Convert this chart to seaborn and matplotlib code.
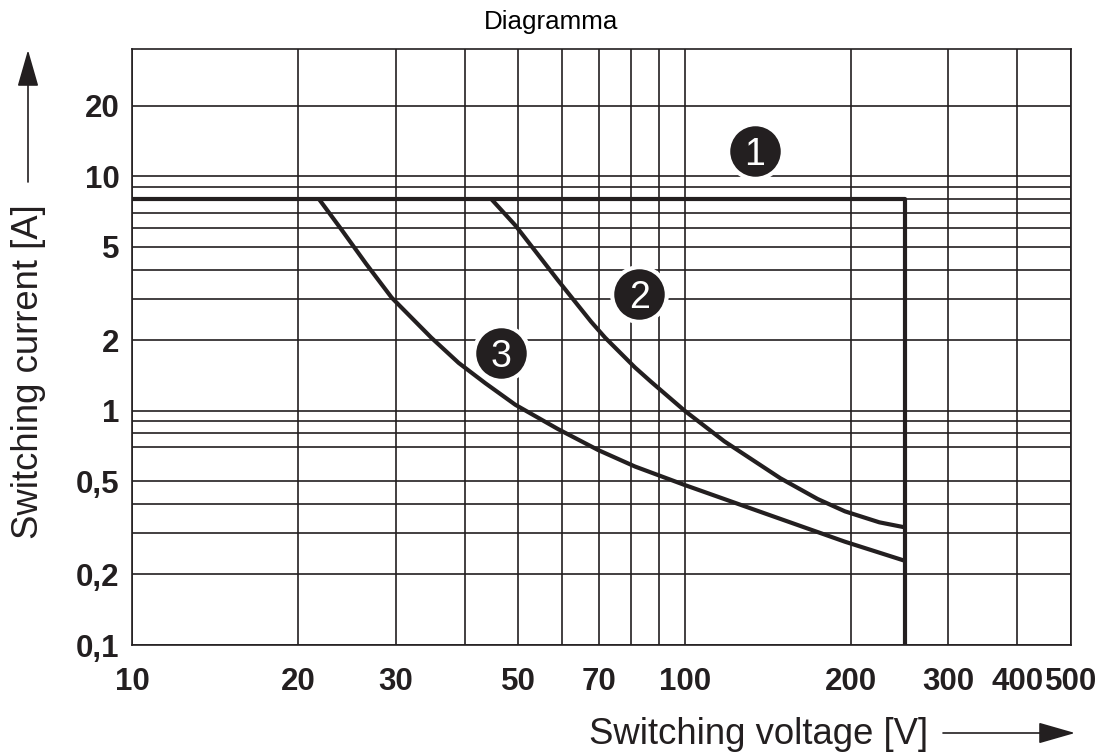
import pandas as pd
import matplotlib
matplotlib.use("Agg")
import matplotlib.pyplot as plt
import seaborn as sns
from matplotlib.ticker import FixedLocator, FixedFormatter, NullFormatter

INK = "#231f20"

# switching capacity curves
# 1: rated limit (8 A up to 250 V, then vertical)
volt_1 = [10, 250, 250]
amp_1 = [8, 8, 0.1]

# 2: resistive load curve
volt_2 = [44.7, 49.4, 59.0, 67.7, 71.8, 81.3, 86.9, 100, 118, 149, 174, 195, 225, 250]
amp_2 = [8, 6.18, 3.6, 2.4, 2.05, 1.53, 1.33, 1.0, 0.74, 0.515, 0.42, 0.372, 0.334, 0.318]

# 3: inductive load curve
volt_3 = [21.8, 24.0, 26.5, 29.5, 34.8, 39.0, 43.6, 49.4, 59.0, 69.7, 81.3, 100, 139, 195, 250]
amp_3 = [8, 5.88, 4.25, 3.04, 2.05, 1.60, 1.31, 1.06, 0.835, 0.68, 0.578, 0.482, 0.366, 0.276, 0.229]

# numbered badges
badge_text = ["1", "2", "3"]
badge_volt = [134, 82.7, 46.5]
badge_amp = [12.9, 3.16, 1.77]

# axis ticks / grid
x_ticks = [10, 20, 30, 50, 70, 100, 200, 300, 400, 500]
x_ticklabels = ["10", "20", "30", "50", "70", "100", "200", "300", "400", "500"]
x_grid_extra = [40, 60, 80, 90]
y_ticks = [0.1, 0.2, 0.5, 1, 2, 5, 10, 20]
y_ticklabels = ["0,1", "0,2", "0,5", "1", "2", "5", "10", "20"]
y_grid_extra = [0.3, 0.4, 0.7, 0.8, 0.9, 3, 4, 6, 7, 8, 9]

df = pd.concat([
    pd.DataFrame({"curve": "1", "voltage": volt_1, "current": amp_1}),
    pd.DataFrame({"curve": "2", "voltage": volt_2, "current": amp_2}),
    pd.DataFrame({"curve": "3", "voltage": volt_3, "current": amp_3}),
], ignore_index=True)

sns.set_style("white")
plt.rcParams["font.family"] = ["Liberation Sans", "DejaVu Sans"]

fig = plt.figure(figsize=(10.98, 7.56), dpi=100)
ax = fig.add_axes([0.1202, 0.1468, 0.8552, 0.7884])

sns.lineplot(data=df, x="voltage", y="current", units="curve", estimator=None,
             sort=False, color=INK, lw=3, ax=ax, zorder=3)

ax.set_xscale("log")
ax.set_yscale("log")
ax.set_xlim(10, 500)
ax.set_ylim(0.1, 35)

ax.xaxis.set_major_locator(FixedLocator(x_ticks))
ax.xaxis.set_major_formatter(FixedFormatter(x_ticklabels))
ax.xaxis.set_minor_locator(FixedLocator(x_grid_extra))
ax.xaxis.set_minor_formatter(NullFormatter())
ax.yaxis.set_major_locator(FixedLocator(y_ticks))
ax.yaxis.set_major_formatter(FixedFormatter(y_ticklabels))
ax.yaxis.set_minor_locator(FixedLocator(y_grid_extra))
ax.yaxis.set_minor_formatter(NullFormatter())

ax.grid(True, which="both", color=INK, lw=1.2)
ax.set_axisbelow(True)
for sp in ax.spines.values():
    sp.set_color(INK)
    sp.set_linewidth(1.2)

ax.tick_params(which="both", length=0, labelsize=22.5, labelcolor=INK)
ax.tick_params(axis="x", pad=15.5)
ax.tick_params(axis="y", pad=9)
for lab in ax.get_xticklabels() + ax.get_yticklabels():
    lab.set_fontweight("bold")
ax.set_xlabel("")
ax.set_ylabel("")

# badges
ax.scatter(badge_volt, badge_amp, s=1550, color=INK, edgecolor="white",
           linewidths=3, zorder=5)
for t, bx, by in zip(badge_text, badge_volt, badge_amp):
    ax.text(bx, by, t, color="white", fontsize=27, ha="center", va="center_baseline",
            zorder=6)

# titles and axis captions
fig.text(551 / 1098, 1 - 22 / 756, "Diagramma", fontsize=18.7, color="black",
         ha="center", va="center")
fig.text(759 / 1098, 1 - 735 / 756, "Switching voltage [V]", fontsize=26.3,
         color=INK, ha="center", va="center")
fig.text(29 / 1098, 1 - 372 / 756, "Switching current [A]", fontsize=26.3,
         color=INK, ha="center", va="center", rotation=90)

# arrows next to the captions
arrow_style = dict(arrowstyle="-|>,head_length=1.15,head_width=0.33", lw=1.2,
                   color=INK, mutation_scale=20, shrinkA=0, shrinkB=0)
ax.annotate("", xy=(28 / 1098, 1 - 50 / 756), xytext=(28 / 1098, 1 - 182 / 756),
            xycoords="figure fraction", textcoords="figure fraction",
            arrowprops=arrow_style)
ax.annotate("", xy=(1075 / 1098, 1 - 733 / 756), xytext=(943 / 1098, 1 - 733 / 756),
            xycoords="figure fraction", textcoords="figure fraction",
            arrowprops=arrow_style)

fig.savefig("out.png", dpi=100)
